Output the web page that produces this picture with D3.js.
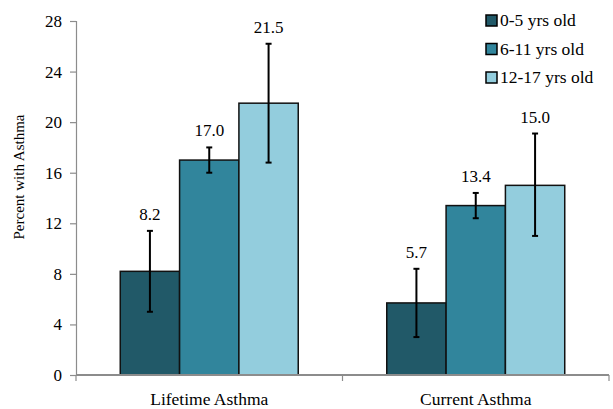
<!DOCTYPE html>
<html>
<head>
<meta charset="utf-8">
<script src="https://cdn.jsdelivr.net/npm/d3@7"></script>
<style>
  html, body { margin: 0; padding: 0; background: #fff; }
  svg { display: block; }
</style>
</head>
<body>
<svg id="chart" width="613" height="409"></svg>
<script>
// Asthma prevalence by age group
const categories = ["Lifetime Asthma", "Current Asthma"];
const ageGroups = ["0-5 yrs old", "6-11 yrs old", "12-17 yrs old"];
const groupColors = ["#215968", "#31859c", "#93cddd"];
// percent, one array per age group, ordered as categories
const values = [
  [8.2, 5.7],
  [17.0, 13.4],
  [21.5, 15.0]
];
// confidence interval bounds
const lower = [
  [5.0, 3.0],
  [16.0, 12.4],
  [16.8, 11.0]
];
const upper = [
  [11.4, 8.4],
  [18.0, 14.4],
  [26.2, 19.1]
];
const yTicks = [0, 4, 8, 12, 16, 20, 24, 28];

const SERIF = "'Liberation Serif', 'Times New Roman', Times, serif";

const svg = d3.select("#chart")
  .attr("font-family", SERIF)
  .style("font-family", SERIF);
const margin = { left: 76, right: 4, top: 21, bottom: 34 };
const width = 613, height = 409;
const plotRight = width - margin.right;
const plotBottom = height - margin.bottom;

const x = d3.scaleBand().domain(categories).range([margin.left, plotRight]).padding(0);
const xInner = d3.scaleBand().domain(ageGroups)
  .range([0, x.bandwidth()]).paddingInner(0).paddingOuter(0.746);
const y = d3.scaleLinear().domain([0, 28]).range([plotBottom, margin.top]);

function serifText(sel, size) {
  return sel.attr("font-family", SERIF).style("font-family", SERIF)
    .style("font-size", size + "px").attr("fill", "#000");
}

// y axis
const yAxis = svg.append("g")
  .attr("transform", `translate(${margin.left},0)`)
  .call(d3.axisLeft(y).tickValues(yTicks).tickSize(6).tickPadding(8).tickFormat(d3.format("d")));
yAxis.attr("font-family", SERIF);
yAxis.select(".domain").attr("stroke", "#8c8c8c").attr("stroke-width", 1.2);
yAxis.selectAll(".tick line").attr("stroke", "#8c8c8c").attr("stroke-width", 1.2);
serifText(yAxis.selectAll(".tick text"), 17);

serifText(svg.append("text")
  .attr("transform", `translate(24,177) rotate(-90)`)
  .attr("text-anchor", "middle"), 15)
  .text("Percent with Asthma");

// bars
const rows = [];
ageGroups.forEach((g, gi) => {
  categories.forEach((c, ci) => {
    rows.push({ group: g, gi, cat: c, v: values[gi][ci], lo: lower[gi][ci], hi: upper[gi][ci] });
  });
});

svg.append("g").selectAll("rect").data(rows).join("rect")
  .attr("x", d => x(d.cat) + xInner(d.group))
  .attr("y", d => y(d.v))
  .attr("width", xInner.bandwidth())
  .attr("height", d => y(0) - y(d.v))
  .attr("fill", d => groupColors[d.gi])
  .attr("stroke", "#111")
  .attr("stroke-width", 1.5);

// x axis
const xAxis = svg.append("g")
  .attr("transform", `translate(0,${plotBottom})`);
xAxis.append("line")
  .attr("x1", margin.left).attr("x2", plotRight)
  .attr("stroke", "#8c8c8c").attr("stroke-width", 2);
xAxis.selectAll("line.sep").data([margin.left, x(categories[1]), plotRight]).join("line")
  .attr("class", "sep")
  .attr("x1", d => d).attr("x2", d => d).attr("y1", 0).attr("y2", 6)
  .attr("stroke", "#8c8c8c").attr("stroke-width", 1.2);
serifText(xAxis.selectAll("text").data(categories).join("text")
  .attr("x", d => x(d) + x.bandwidth() / 2)
  .attr("y", 30)
  .attr("text-anchor", "middle"), 17.5)
  .text(d => d);

// error bars
const errG = svg.append("g").attr("stroke", "#000").attr("stroke-width", 2);
const cx = d => x(d.cat) + xInner(d.group) + xInner.bandwidth() / 2;
errG.selectAll("line.stem").data(rows).join("line").attr("class", "stem")
  .attr("x1", cx).attr("x2", cx).attr("y1", d => y(d.lo)).attr("y2", d => y(d.hi));
errG.selectAll("line.capHi").data(rows).join("line").attr("class", "capHi")
  .attr("x1", d => cx(d) - 3).attr("x2", d => cx(d) + 3).attr("y1", d => y(d.hi)).attr("y2", d => y(d.hi));
errG.selectAll("line.capLo").data(rows).join("line").attr("class", "capLo")
  .attr("x1", d => cx(d) - 3).attr("x2", d => cx(d) + 3).attr("y1", d => y(d.lo)).attr("y2", d => y(d.lo));

// value labels
serifText(svg.append("g").selectAll("text").data(rows).join("text")
  .attr("x", cx)
  .attr("y", d => y(d.hi) - 11)
  .attr("text-anchor", "middle"), 17)
  .text(d => d.v.toFixed(1));

// legend
const legend = svg.append("g").attr("transform", "translate(486,15)");
const li = legend.selectAll("g").data(ageGroups).join("g")
  .attr("transform", (d, i) => `translate(0,${i * 28.5})`);
li.append("rect").attr("width", 11).attr("height", 11)
  .attr("fill", (d, i) => groupColors[i]).attr("stroke", "#000").attr("stroke-width", 1.5);
serifText(li.append("text").attr("x", 14).attr("y", 11), 17.5).text(d => d);
</script>
</body>
</html>
